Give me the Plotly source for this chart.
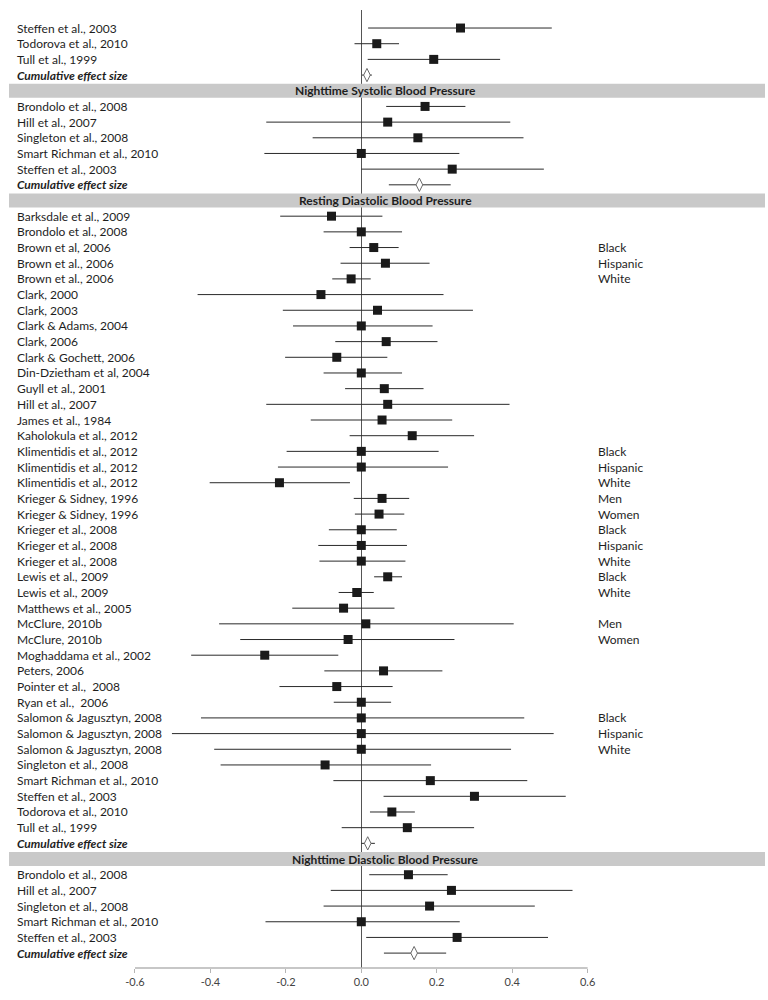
import plotly.graph_objects as go

# ---------------- data ----------------
# Section continued from previous page (Resting Systolic, tail only)
rs_title = None
rs_names = ["Steffen et al., 2003", "Todorova et al., 2010", "Tull et al., 1999"]
rs_groups = ["", "", ""]
rs_est = [0.263, 0.041, 0.192]
rs_lo = [0.018, -0.018, 0.017]
rs_hi = [0.505, 0.100, 0.368]
rs_cum = [0.015, 0.002, 0.028]  # estimate, lower, upper

ns_title = "Nighttime Systolic Blood Pressure"
ns_names = ["Brondolo et al., 2008", "Hill et al., 2007", "Singleton et al., 2008",
            "Smart Richman et al., 2010", "Steffen et al., 2003"]
ns_groups = ["", "", "", "", ""]
ns_est = [0.169, 0.070, 0.150, 0.000, 0.241]
ns_lo = [0.066, -0.252, -0.129, -0.257, 0.000]
ns_hi = [0.276, 0.395, 0.430, 0.260, 0.484]
ns_cum = [0.154, 0.073, 0.237]

rd_title = "Resting Diastolic Blood Pressure"
rd_names = ["Barksdale et al., 2009", "Brondolo et al., 2008", "Brown et al, 2006",
            "Brown et al., 2006", "Brown et al., 2006", "Clark, 2000", "Clark, 2003",
            "Clark & Adams, 2004", "Clark, 2006", "Clark & Gochett, 2006",
            "Din-Dzietham et al, 2004", "Guyll et al., 2001", "Hill et al., 2007",
            "James et al., 1984", "Kaholokula et al., 2012", "Klimentidis et al., 2012",
            "Klimentidis et al., 2012", "Klimentidis et al., 2012", "Krieger & Sidney, 1996",
            "Krieger & Sidney, 1996", "Krieger et al., 2008", "Krieger et al., 2008",
            "Krieger et al., 2008", "Lewis et al., 2009", "Lewis et al., 2009",
            "Matthews et al., 2005", "McClure, 2010b", "McClure, 2010b",
            "Moghaddama et al., 2002", "Peters, 2006", "Pointer et al.,  2008",
            "Ryan et al.,  2006", "Salomon & Jagusztyn, 2008", "Salomon & Jagusztyn, 2008",
            "Salomon & Jagusztyn, 2008", "Singleton et al., 2008", "Smart Richman et al., 2010",
            "Steffen et al., 2003", "Todorova et al., 2010", "Tull et al., 1999"]
rd_groups = ["", "", "Black", "Hispanic", "White", "", "", "", "", "",
             "", "", "", "", "", "Black", "Hispanic", "White", "Men", "Women",
             "Black", "Hispanic", "White", "Black", "White", "", "Men", "Women",
             "", "", "", "", "Black", "Hispanic", "White", "", "", "", "", ""]
rd_est = [-0.079, 0.000, 0.033, 0.064, -0.027, -0.107, 0.043, 0.000, 0.066, -0.065,
          0.000, 0.061, 0.070, 0.055, 0.135, 0.000, 0.000, -0.217, 0.055, 0.047,
          0.000, 0.000, 0.000, 0.070, -0.012, -0.047, 0.012, -0.035, -0.256, 0.059,
          -0.065, 0.000, 0.000, 0.000, 0.000, -0.096, 0.183, 0.300, 0.081, 0.122]
rd_lo = [-0.215, -0.100, -0.031, -0.055, -0.077, -0.434, -0.208, -0.181, -0.069, -0.202,
         -0.100, -0.043, -0.252, -0.134, -0.031, -0.198, -0.221, -0.402, -0.020, -0.017,
         -0.086, -0.114, -0.111, 0.034, -0.060, -0.183, -0.377, -0.321, -0.451, -0.098,
         -0.217, -0.073, -0.425, -0.502, -0.390, -0.373, -0.074, 0.059, 0.023, -0.052]
rd_hi = [0.056, 0.108, 0.099, 0.181, 0.025, 0.218, 0.296, 0.189, 0.202, 0.069,
         0.108, 0.165, 0.393, 0.241, 0.299, 0.205, 0.230, -0.030, 0.127, 0.114,
         0.094, 0.121, 0.117, 0.108, 0.033, 0.088, 0.404, 0.247, -0.061, 0.215,
         0.083, 0.079, 0.432, 0.510, 0.397, 0.185, 0.440, 0.542, 0.142, 0.299]
rd_cum = [0.017, 0.000, 0.036]

nd_title = "Nighttime Diastolic Blood Pressure"
nd_names = ["Brondolo et al., 2008", "Hill et al., 2007", "Singleton et al., 2008",
            "Smart Richman et al., 2010", "Steffen et al., 2003"]
nd_groups = ["", "", "", "", ""]
nd_est = [0.125, 0.239, 0.181, 0.000, 0.254]
nd_lo = [0.021, -0.081, -0.100, -0.254, 0.013]
nd_hi = [0.229, 0.560, 0.460, 0.261, 0.495]
nd_cum = [0.140, 0.060, 0.225]

cum_label = "Cumulative effect size"
tick_vals = [-0.6, -0.4, -0.2, 0.0, 0.2, 0.4, 0.6]
tick_text = ["-0.6", "-0.4", "-0.2", "0.0", "0.2", "0.4", "0.6"]

sections = [
    (rs_title, rs_names, rs_groups, rs_est, rs_lo, rs_hi, rs_cum),
    (ns_title, ns_names, ns_groups, ns_est, ns_lo, ns_hi, ns_cum),
    (rd_title, rd_names, rd_groups, rd_est, rd_lo, rd_hi, rd_cum),
    (nd_title, nd_names, nd_groups, nd_est, nd_lo, nd_hi, nd_cum),
]

# ---------------- layout constants ----------------
W, H = 768, 1000
FONT = "Lato, Roboto, sans-serif"
TXT = "#1e1e1e"
LINE = "#2a2a2a"
FS = 12

fig = go.Figure()
annotations = []
shapes = []

st_x, st_y, st_lo, st_hi = [], [], [], []
cu_x, cu_y, cu_lo, cu_hi = [], [], [], []

row = 0
for title, names, groups, est, lo, hi, cum in sections:
    if title:
        shapes.append(dict(type="rect", xref="paper", yref="y",
                           x0=9 / W, x1=765 / W, y0=row - 0.45, y1=row + 0.45,
                           fillcolor="#c9c9c9", line=dict(width=0), layer="above"))
        annotations.append(dict(xref="paper", yref="y", x=385 / W, y=row,
                                text="<b>" + title + "</b>", showarrow=False,
                                xanchor="center", yanchor="middle",
                                font=dict(family=FONT, size=FS, color=TXT)))
        row += 1
    for n, g, e, l, h in zip(names, groups, est, lo, hi):
        st_x.append(e); st_y.append(row)
        st_lo.append(e - l); st_hi.append(h - e)
        annotations.append(dict(xref="paper", yref="y", x=15 / W, y=row, text=n,
                                showarrow=False, xanchor="left", yanchor="middle",
                                font=dict(family=FONT, size=FS, color=TXT)))
        if g:
            annotations.append(dict(xref="paper", yref="y", x=596 / W, y=row, text=g,
                                    showarrow=False, xanchor="left", yanchor="middle",
                                    font=dict(family=FONT, size=FS, color=TXT)))
        row += 1
    cu_x.append(cum[0]); cu_y.append(row)
    cu_lo.append(cum[0] - cum[1]); cu_hi.append(cum[2] - cum[0])
    annotations.append(dict(xref="paper", yref="y", x=15 / W, y=row,
                            text="<b><i>" + cum_label + "</i></b>",
                            showarrow=False, xanchor="left", yanchor="middle",
                            font=dict(family=FONT, size=FS, color=TXT)))
    row += 1

fig.add_trace(go.Scatter(
    x=st_x, y=st_y, mode="markers",
    marker=dict(symbol="square", size=9, color="#1a1a1a", line=dict(width=0)),
    error_x=dict(type="data", symmetric=False, array=st_hi, arrayminus=st_lo,
                 width=0, thickness=1, color=LINE),
    showlegend=False, hoverinfo="skip"))

fig.add_trace(go.Scatter(
    x=cu_x, y=cu_y, mode="markers",
    marker=dict(symbol="diamond-tall", size=9.5, color="white",
                line=dict(width=1, color="#6a6a6a")),
    error_x=dict(type="data", symmetric=False, array=cu_hi, arrayminus=cu_lo,
                 width=0, thickness=1, color=LINE),
    showlegend=False, hoverinfo="skip"))

# x-axis base line only across the tick span
shapes.append(dict(type="line", xref="x", yref="paper", x0=-0.6, x1=0.6, y0=0, y1=0,
                   line=dict(color="#b5b5b5", width=1.5)))

# pixel mapping: x_px = 361.3 + 377.2 * v
x0v = -361.3 / 377.2
x1v = (W - 361.3) / 377.2

fig.update_layout(
    width=W, height=H, autosize=False,
    margin=dict(l=0, r=0, t=10, b=32, pad=0),
    paper_bgcolor="white", plot_bgcolor="white",
    annotations=annotations, shapes=shapes,
    xaxis=dict(range=[x0v, x1v], tickvals=tick_vals, ticktext=tick_text,
               ticks="outside", ticklen=4, tickcolor="#b5b5b5", tickwidth=1,
               showgrid=False, showline=False,
               zeroline=True, zerolinecolor="#555555", zerolinewidth=1,
               tickfont=dict(family=FONT, size=11, color="#444444"), fixedrange=True),
    yaxis=dict(range=[59.95, -1.15], showticklabels=False, showgrid=False,
               zeroline=False, showline=False, ticks="", fixedrange=True),
)

fig.write_html("out.html", config={"displayModeBar": False},
               post_script="document.body.style.margin='0px';")
